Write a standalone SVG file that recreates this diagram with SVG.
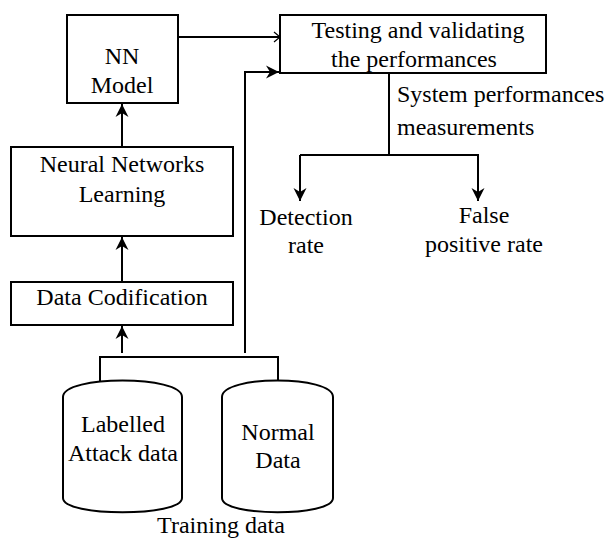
<svg xmlns="http://www.w3.org/2000/svg" width="615" height="538" viewBox="0 0 615 538">
<style>
.b{fill:#fff;stroke:#000;stroke-width:2}
.c{fill:none;stroke:#000;stroke-width:2}
</style>
<defs>
<marker id="ah" markerUnits="userSpaceOnUse" markerWidth="16" markerHeight="16" viewBox="-14 -8 16 16" refX="0" refY="0" orient="auto">
<path d="M0,0 L-13,-6.5 L-9,0 L-13,6.5 Z" fill="#000"/>
</marker>
<marker id="ao" markerUnits="userSpaceOnUse" markerWidth="16" markerHeight="16" viewBox="-14 -8 16 16" refX="0" refY="0" orient="auto">
<path d="M-6,-5 L0,0 L-6,5" fill="none" stroke="#000" stroke-width="1.2"/>
</marker>
</defs>
<rect width="615" height="538" fill="#fff"/>
<g id="connectors">
<path class="c" d="M178,37 H280" marker-end="url(#ao)"/>
<path class="c" d="M245,353 V72 H279" marker-end="url(#ah)"/>
<path class="c" d="M122,147 V104" marker-end="url(#ah)"/>
<path class="c" d="M122,281 V237" marker-end="url(#ah)"/>
<path class="c" d="M122,353 V326" marker-end="url(#ah)"/>
<path class="c" d="M100,381 V357 H278 V381"/>
<path class="c" d="M389,73 V155"/>
<path class="c" d="M300,155 H478 V201" marker-end="url(#ah)"/>
<path class="c" d="M300,155 V201" marker-end="url(#ah)"/>
</g>
<g id="nn-model">
<rect class="b" x="67" y="15" width="111" height="88"/>
<text font-family="Liberation Serif" font-size="24" text-anchor="middle" x="122" y="64">NN</text>
<text font-family="Liberation Serif" font-size="24" text-anchor="middle" x="122" y="93">Model</text>
</g>
<g id="testing">
<rect class="b" x="280" y="15" width="266" height="58"/>
<text font-family="Liberation Serif" font-size="24" text-anchor="middle" x="418" y="38">Testing and validating</text>
<text font-family="Liberation Serif" font-size="24" text-anchor="middle" x="414" y="67">the performances</text>
</g>
<g id="nn-learning">
<rect class="b" x="11" y="147" width="222" height="89"/>
<text font-family="Liberation Serif" font-size="24" text-anchor="middle" x="122" y="172">Neural Networks</text>
<text font-family="Liberation Serif" font-size="24" text-anchor="middle" x="122" y="202">Learning</text>
</g>
<g id="data-codification">
<rect class="b" x="11" y="282" width="222" height="43"/>
<text font-family="Liberation Serif" font-size="24" text-anchor="middle" x="122" y="305">Data Codification</text>
</g>
<g id="measurements-label">
<text font-family="Liberation Serif" font-size="24" x="397" y="102">System performances</text>
<text font-family="Liberation Serif" font-size="24" x="397" y="135">measurements</text>
</g>
<g id="detection-rate">
<text font-family="Liberation Serif" font-size="24" text-anchor="middle" x="306" y="225">Detection</text>
<text font-family="Liberation Serif" font-size="24" text-anchor="middle" x="306" y="253">rate</text>
</g>
<g id="false-positive-rate">
<text font-family="Liberation Serif" font-size="24" text-anchor="middle" x="484" y="223">False</text>
<text font-family="Liberation Serif" font-size="24" text-anchor="middle" x="484" y="252">positive rate</text>
</g>
<g id="labelled-attack-data">
<path class="b" d="M63,397 C63,375 182,375 182,397 V498 C182,517 63,517 63,498 Z"/>
<text font-family="Liberation Serif" font-size="24" text-anchor="middle" x="123" y="432">Labelled</text>
<text font-family="Liberation Serif" font-size="24" text-anchor="middle" x="123" y="461">Attack data</text>
</g>
<g id="normal-data">
<path class="b" d="M222,397 C222,375 333,375 333,397 V498 C333,517 222,517 222,498 Z"/>
<text font-family="Liberation Serif" font-size="24" text-anchor="middle" x="278" y="440">Normal</text>
<text font-family="Liberation Serif" font-size="24" text-anchor="middle" x="278" y="468">Data</text>
</g>
<g id="training-data-label">
<text font-family="Liberation Serif" font-size="24" text-anchor="middle" x="221" y="533">Training data</text>
</g>
</svg>
